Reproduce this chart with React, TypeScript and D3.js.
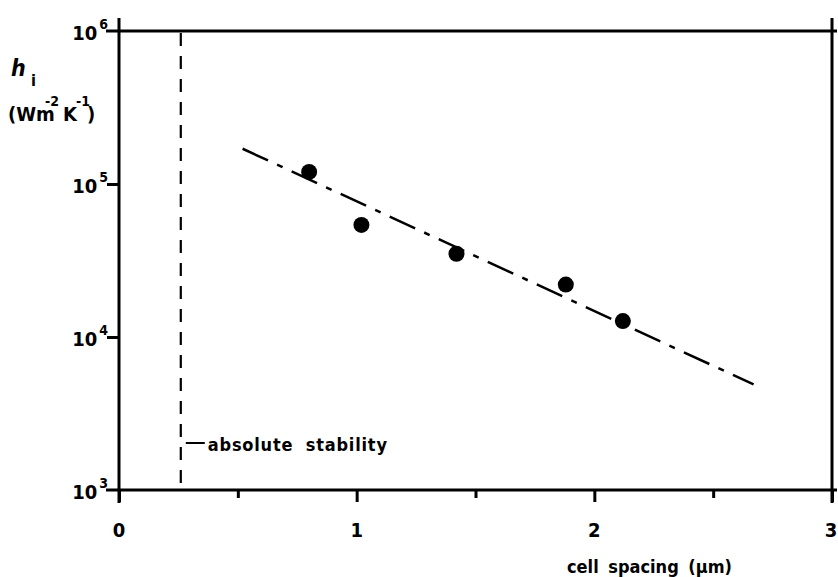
import React, { useEffect, useRef } from 'react';
import * as d3 from 'd3';

// measured points: cell spacing (µm) vs interface heat transfer coefficient h_i
const cellSpacing = [0.8, 1.02, 1.42, 1.88, 2.12];
const hiValues = [1.2e5, 5.4e4, 3.5e4, 2.2e4, 1.27e4];

// dash-dot fit line end points
const fitSpacing = [0.52, 2.67];
const fitHi = [1.7e5, 4.9e3];

// absolute stability limit
const stabilitySpacing = 0.26;

const xMajorTicks = [0, 1, 2, 3];
const xMinorTicks = [0.5, 1.5, 2.5];
const yTicks = [1e3, 1e4, 1e5, 1e6];
const yExponents = ['3', '4', '5', '6'];

const FONT = "'DejaVu Sans Condensed', 'DejaVu Sans', sans-serif";

const Chart = () => {
    const svgRef = useRef<SVGSVGElement>(null);

    useEffect(() => {
        const svg = d3.select(svgRef.current);
        svg.selectAll('*').remove();

        const x = d3.scaleLinear().domain([0, 3]).range([119, 832]);
        const y = d3.scaleLog().domain([1e3, 1e6]).range([490, 31]);

        const left = x(0);
        const right = x(3);
        const top = y(1e6);
        const bottom = y(1e3);

        // frame with crossed corners
        const frame = svg.append('g').attr('stroke', '#000').attr('stroke-width', 3);
        frame.append('line').attr('x1', left).attr('x2', left).attr('y1', top - 13).attr('y2', bottom + 13);
        frame.append('line').attr('x1', right).attr('x2', right).attr('y1', top - 13).attr('y2', bottom + 13);
        frame.append('line').attr('x1', left - 13).attr('x2', right + 5).attr('y1', top).attr('y2', top);
        frame.append('line').attr('x1', left - 13).attr('x2', right + 5).attr('y1', bottom).attr('y2', bottom);

        // x axis ticks
        const xMajor = svg
            .append('g')
            .attr('transform', `translate(0,${bottom})`)
            .call(d3.axisBottom(x).tickValues(xMajorTicks).tickSize(12).tickSizeOuter(0).tickFormat(() => ''));
        const xMinor = svg
            .append('g')
            .attr('transform', `translate(0,${bottom})`)
            .call(d3.axisBottom(x).tickValues(xMinorTicks).tickSize(8).tickSizeOuter(0).tickFormat(() => ''));
        [xMajor, xMinor].forEach(g => {
            g.select('.domain').remove();
            g.selectAll('line').attr('stroke', '#000').attr('stroke-width', 3);
        });

        svg
            .append('g')
            .selectAll('text')
            .data(xMajorTicks)
            .enter()
            .append('text')
            .attr('x', d => (d === 3 ? x(d) - 1 : x(d)))
            .attr('y', 537)
            .attr('text-anchor', 'middle')
            .attr('font-family', FONT)
            .attr('font-weight', 'bold')
            .attr('font-size', 20)
            .text(d => String(d));

        // y axis ticks
        const yAxis = svg
            .append('g')
            .attr('transform', `translate(${left},0)`)
            .call(d3.axisLeft(y).tickValues([1e4, 1e5]).tickSize(12).tickSizeOuter(0).tickFormat(() => ''));
        yAxis.select('.domain').remove();
        yAxis.selectAll('line').attr('stroke', '#000').attr('stroke-width', 3);

        const yLabels = svg
            .append('g')
            .selectAll('text')
            .data(yTicks)
            .enter()
            .append('text')
            .attr('x', 108)
            .attr('y', d => y(d) + 9)
            .attr('text-anchor', 'end')
            .attr('font-family', FONT)
            .attr('font-weight', 'bold')
            .attr('font-size', 20);
        yLabels.append('tspan').text('10');
        yLabels
            .append('tspan')
            .attr('dx', 2)
            .attr('dy', -11)
            .attr('font-size', 14)
            .text((d, i) => yExponents[i]);

        // absolute stability line
        svg
            .append('line')
            .attr('x1', x(stabilitySpacing))
            .attr('x2', x(stabilitySpacing))
            .attr('y1', top + 2)
            .attr('y2', bottom - 2)
            .attr('stroke', '#000')
            .attr('stroke-width', 2.2)
            .attr('stroke-dasharray', '13,10');

        svg
            .append('line')
            .attr('x1', x(stabilitySpacing) + 5)
            .attr('x2', x(stabilitySpacing) + 24)
            .attr('y1', 443)
            .attr('y2', 443)
            .attr('stroke', '#000')
            .attr('stroke-width', 2);

        svg
            .append('text')
            .attr('x', x(stabilitySpacing) + 27)
            .attr('y', 451)
            .attr('font-family', FONT)
            .attr('font-weight', 'bold')
            .attr('font-size', 18)
            .attr('letter-spacing', 0.8)
            .attr('word-spacing', 6)
            .text('absolute stability');

        // fit line
        const fitData = fitSpacing.map((s, i) => [s, fitHi[i]] as [number, number]);
        svg
            .append('path')
            .datum(fitData)
            .attr('d', d3.line<[number, number]>().x(d => x(d[0])).y(d => y(d[1])))
            .attr('fill', 'none')
            .attr('stroke', '#000')
            .attr('stroke-width', 2.5)
            .attr('stroke-dasharray', '28,10,6,10');

        // data points
        svg
            .append('g')
            .selectAll('circle')
            .data(cellSpacing)
            .enter()
            .append('circle')
            .attr('cx', d => x(d))
            .attr('cy', (d, i) => y(hiValues[i]))
            .attr('r', 8)
            .attr('fill', '#000');

        // y axis title
        const hTitle = svg
            .append('text')
            .attr('x', 11)
            .attr('y', 76)
            .attr('font-family', FONT)
            .attr('font-weight', 'bold');
        hTitle.append('tspan').attr('font-style', 'italic').attr('font-size', 23).text('h');
        hTitle.append('tspan').attr('x', 31).attr('y', 86).attr('font-size', 16).text('i');

        const unitTitle = svg
            .append('text')
            .attr('y', 121)
            .attr('font-family', FONT)
            .attr('font-weight', 'bold')
            .attr('font-size', 20);
        unitTitle.append('tspan').attr('x', 8).text('(Wm');
        unitTitle.append('tspan').attr('x', 45).attr('y', 106).attr('font-size', 14).text('-2');
        unitTitle.append('tspan').attr('x', 63).attr('y', 121).text('K');
        unitTitle.append('tspan').attr('x', 76).attr('y', 106).attr('font-size', 14).text('-1');
        unitTitle.append('tspan').attr('x', 87).attr('y', 121).text(')');

        // x axis title
        svg
            .append('text')
            .attr('x', 567)
            .attr('y', 573)
            .attr('font-family', FONT)
            .attr('font-weight', 'bold')
            .attr('font-size', 18)
            .attr('word-spacing', 4)
            .text('cell spacing (µm)');
    }, []);

    return <svg ref={svgRef} width={838} height={577} style={{ position: 'absolute', left: 0, top: 0, background: '#fff' }}></svg>;
};

export default function App() {
    return <Chart />;
}
